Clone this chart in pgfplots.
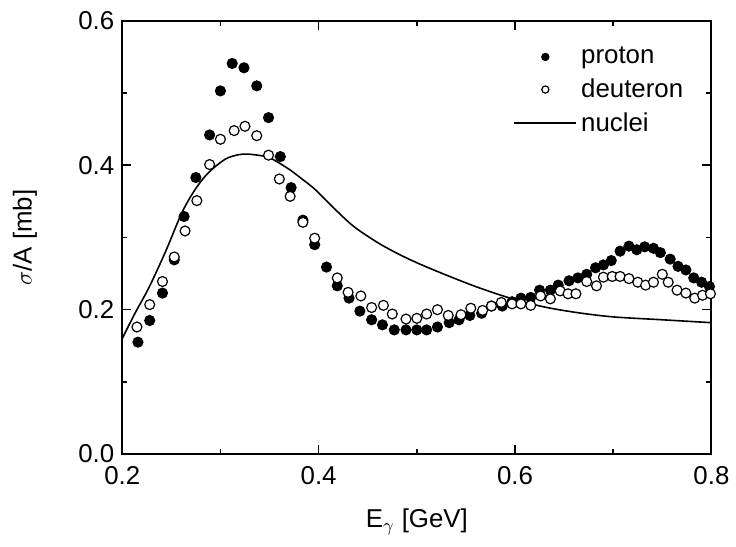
\documentclass[border=0pt]{standalone}
\usepackage{fontspec}
\setmainfont{Liberation Sans}
\usepackage{pgfplots}
\pgfplotsset{compat=1.18}
\begin{document}
\begin{tikzpicture}
\begin{axis}[
  scale only axis,
  width=296.5pt, height=218pt,
  font=\fontsize{13}{15.6}\selectfont,
  xmin=0.2, xmax=0.8, ymin=0, ymax=0.6,
  xtick={0.2,0.4,0.6,0.8},
  ytick={0,0.2,0.4,0.6},
  minor xtick={0.3,0.5,0.7},
  minor ytick={0.1,0.3,0.5},
  tick align=inside,
  major tick length=4.5pt, minor tick length=2.5pt,
  every tick/.style={black, line width=0.8pt},
  axis line style={line width=1pt},
  /pgf/number format/assume math mode=true,
  /pgf/number format/.cd, fixed, fixed zerofill, precision=1, /pgfplots/.cd,
  xticklabel style={yshift=-2.5pt},
  yticklabel style={xshift=-0.5pt},
  xlabel={E$_{\gamma}$ [GeV]},
  ylabel={$\sigma$/A [mb]},
  every axis x label/.style={at={(axis description cs:0.5,0)}, yshift=-37pt, anchor=base},
  every axis y label/.style={at={(axis description cs:0,0.5)}, xshift=-49pt, rotate=90, anchor=center},
  legend style={draw=none, fill=none, at={(1,1)}, anchor=north east, xshift=-9pt, yshift=-9pt, row sep=2pt, font=\fontsize{13}{15.6}\selectfont},
  legend cell align=left,
  legend image code/.code={\draw[mark repeat=2,mark phase=2] plot coordinates {(0cm,0cm)(0.55cm,0cm)(1.1cm,0cm)};},
  legend image post style={mark size=1.8pt},
]
\addplot[only marks, mark=*, mark size=2.5pt, fill=black, draw=black, mark options={line width=0.6pt}] coordinates {
(0.216,0.155) (0.228,0.185) (0.241,0.223) (0.253,0.269) (0.263,0.329) (0.275,0.383)
(0.289,0.442) (0.300,0.503) (0.312,0.541) (0.324,0.535) (0.337,0.510) (0.349,0.466)
(0.361,0.412) (0.372,0.369) (0.384,0.324) (0.396,0.290) (0.408,0.259) (0.419,0.233)
(0.431,0.216) (0.442,0.198) (0.454,0.186) (0.465,0.179) (0.477,0.172) (0.489,0.172)
(0.500,0.172) (0.510,0.172) (0.521,0.176) (0.533,0.182) (0.543,0.186) (0.554,0.192)
(0.566,0.195) (0.576,0.205) (0.587,0.205) (0.597,0.211) (0.606,0.216) (0.616,0.217)
(0.625,0.227) (0.636,0.227) (0.644,0.234) (0.655,0.240) (0.664,0.244) (0.673,0.249)
(0.682,0.258) (0.690,0.262) (0.698,0.268) (0.707,0.281) (0.716,0.288) (0.724,0.283)
(0.732,0.287) (0.741,0.285) (0.748,0.279) (0.758,0.270) (0.766,0.260) (0.774,0.255)
(0.782,0.244) (0.790,0.238) (0.798,0.232)
};
\addlegendentry{proton}
\addplot[only marks, mark=*, mark size=2.5pt, fill=white, draw=black, mark options={line width=0.6pt}] coordinates {
(0.215,0.176) (0.228,0.207) (0.241,0.239) (0.253,0.273) (0.264,0.309) (0.276,0.351)
(0.289,0.401) (0.300,0.436) (0.314,0.448) (0.325,0.454) (0.337,0.441) (0.349,0.414)
(0.360,0.381) (0.371,0.357) (0.384,0.321) (0.396,0.299) (0.419,0.244) (0.430,0.224)
(0.443,0.219) (0.454,0.203) (0.466,0.206) (0.475,0.194) (0.489,0.187) (0.500,0.188)
(0.510,0.194) (0.521,0.200) (0.532,0.192) (0.545,0.193) (0.555,0.202) (0.567,0.199)
(0.576,0.205) (0.586,0.210) (0.597,0.208) (0.606,0.208) (0.616,0.206) (0.626,0.219)
(0.636,0.215) (0.646,0.226) (0.654,0.222) (0.662,0.222) (0.673,0.239) (0.683,0.233)
(0.690,0.245) (0.699,0.246) (0.707,0.246) (0.716,0.243) (0.725,0.238) (0.733,0.234)
(0.741,0.238) (0.750,0.249) (0.756,0.238) (0.765,0.227) (0.774,0.223) (0.783,0.216)
(0.791,0.220) (0.799,0.222)
};
\addlegendentry{deuteron}
\addplot[black, line width=0.8pt, smooth, no marks] coordinates {
(0.200,0.160) (0.213,0.195) (0.227,0.230) (0.244,0.280) (0.261,0.335) (0.275,0.368)
(0.288,0.390) (0.305,0.4085) (0.318,0.4145) (0.327,0.4155) (0.338,0.414) (0.349,0.411)
(0.360,0.403) (0.372,0.3925) (0.384,0.380) (0.396,0.367) (0.416,0.340) (0.436,0.315)
(0.460,0.293) (0.480,0.278) (0.500,0.265) (0.528,0.249) (0.561,0.2315) (0.595,0.216)
(0.629,0.204) (0.663,0.196) (0.700,0.190) (0.750,0.186) (0.800,0.182)
};
\addlegendentry{nuclei}
\end{axis}
\path ([shift={(-61.5pt,-46.5pt)}]current axis.south west) rectangle ([shift={(10pt,10.5pt)}]current axis.north east);
\end{tikzpicture}
\end{document}
